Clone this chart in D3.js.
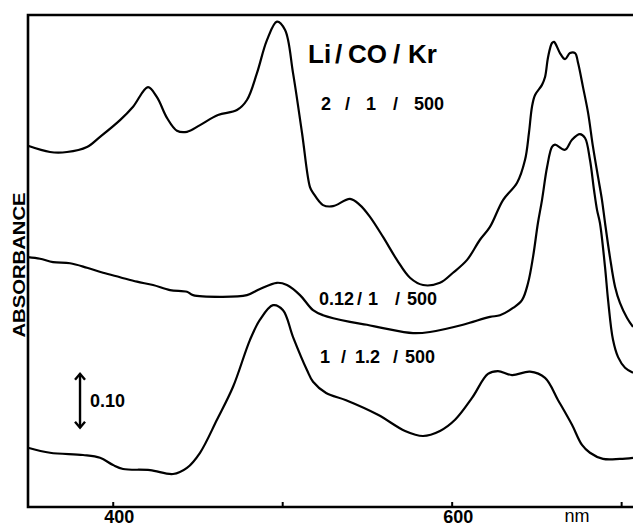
<!DOCTYPE html>
<html>
<head>
<meta charset="utf-8">
<script src="https://cdn.jsdelivr.net/npm/d3@7"></script>
<style>
  html, body { margin: 0; padding: 0; background: #fff; }
  svg { display: block; }
</style>
</head>
<body>
<svg id="chart" width="633" height="528"></svg>
<script>
// Absorption spectra of Li / CO / Kr matrices (wavelength in nm, absorbance)
const wl1 = [350.0, 363.0, 373.0, 384.8, 392.5, 404.3, 412.0, 420.8, 426.1, 432.0, 437.9, 443.8, 451.5, 462.1, 473.3, 479.2, 485.1, 491.0, 496.9, 501.7, 506.4, 511.7, 516.4, 518.2, 524.1, 530.0, 540.0, 545.9, 551.8, 559.5, 567.7, 575.4, 583.1, 593.1, 600.8, 609.1, 616.7, 622.6, 630.3, 638.6, 643.3, 645.6, 647.4, 649.2, 653.3, 655.1, 656.9, 659.2, 660.4, 663.9, 666.9, 669.8, 672.8, 674.6, 677.5, 680.5, 683.4, 686.4, 688.7, 690.5, 693.4, 696.4, 699.3, 703.5, 707.0];
const ab1 = [0.646, 0.635, 0.635, 0.644, 0.662, 0.692, 0.716, 0.751, 0.733, 0.696, 0.673, 0.671, 0.683, 0.701, 0.710, 0.728, 0.776, 0.835, 0.868, 0.853, 0.776, 0.669, 0.572, 0.562, 0.540, 0.538, 0.551, 0.540, 0.519, 0.483, 0.442, 0.410, 0.397, 0.401, 0.419, 0.442, 0.478, 0.501, 0.549, 0.580, 0.621, 0.669, 0.716, 0.737, 0.755, 0.769, 0.805, 0.830, 0.832, 0.812, 0.801, 0.812, 0.812, 0.794, 0.751, 0.705, 0.644, 0.590, 0.549, 0.508, 0.447, 0.394, 0.365, 0.338, 0.322];

const wl2 = [350.0, 357.1, 364.8, 374.8, 384.8, 394.3, 404.3, 414.3, 423.8, 433.8, 443.8, 447.4, 463.3, 479.2, 486.9, 496.9, 502.8, 510.5, 518.2, 524.1, 540.0, 550.0, 559.5, 577.2, 587.2, 606.7, 622.6, 628.5, 636.2, 641.5, 645.1, 648.0, 650.9, 653.3, 656.3, 659.2, 661.0, 666.9, 671.0, 675.7, 678.7, 681.6, 684.0, 685.8, 687.5, 690.5, 692.3, 695.2, 698.2, 702.3, 707.0];
const ab2 = [0.447, 0.444, 0.438, 0.436, 0.428, 0.419, 0.411, 0.403, 0.397, 0.388, 0.385, 0.379, 0.376, 0.379, 0.390, 0.401, 0.397, 0.379, 0.352, 0.343, 0.331, 0.326, 0.320, 0.311, 0.313, 0.326, 0.340, 0.343, 0.356, 0.370, 0.401, 0.447, 0.508, 0.549, 0.608, 0.644, 0.648, 0.639, 0.657, 0.667, 0.660, 0.621, 0.567, 0.531, 0.508, 0.429, 0.370, 0.299, 0.268, 0.249, 0.240];

const wl3 = [350.0, 363.0, 382.5, 392.5, 400.2, 406.1, 422.0, 435.6, 443.8, 451.5, 461.5, 471.0, 481.0, 486.9, 494.6, 500.5, 506.4, 514.6, 518.2, 525.9, 537.7, 556.5, 572.5, 583.1, 593.1, 602.0, 612.0, 621.4, 627.3, 635.6, 646.2, 655.1, 662.8, 671.0, 676.9, 681.6, 689.3, 699.3, 707.0];
const ab3 = [0.106, 0.097, 0.093, 0.088, 0.075, 0.068, 0.066, 0.059, 0.070, 0.097, 0.156, 0.215, 0.299, 0.335, 0.361, 0.352, 0.304, 0.245, 0.224, 0.204, 0.191, 0.165, 0.136, 0.127, 0.136, 0.156, 0.195, 0.238, 0.243, 0.236, 0.242, 0.231, 0.191, 0.147, 0.111, 0.097, 0.086, 0.086, 0.088];

const seriesLabels = ["2 / 1 / 500", "0.12 / 1 / 500", "1 / 1.2 / 500"];
const titleText = "Li / CO / Kr";
const tickValues = [400, 500, 600, 700];
const tickLabels = ["400", "", "600", ""];
const unitText = "nm";
const yTitle = "ABSORBANCE";
const scaleBarValue = 0.10;
const scaleBarLabel = "0.10";

const svg = d3.select("#chart");
const FONT = "'Liberation Sans', Arial, Helvetica, sans-serif";
const frame = { left: 28, right: 633, top: 15, bottom: 507 };

const x = d3.scaleLinear().domain([350, 707]).range([frame.left, frame.right]);
const y = d3.scaleLinear().domain([0, 0.88]).range([frame.bottom, frame.top]);

// frame: left, top and bottom edges (open on the right)
svg.append("path")
  .attr("d", `M${frame.right},${frame.top} L${frame.left},${frame.top} L${frame.left},${frame.bottom} L${frame.right},${frame.bottom}`)
  .attr("fill", "none").attr("stroke", "#000").attr("stroke-width", 2.6);

// wavelength axis: short inward ticks, offset labels
const xAxis = d3.axisBottom(x)
  .tickValues(tickValues)
  .tickFormat((d, i) => tickLabels[i])
  .tickSizeInner(-5).tickSizeOuter(0).tickPadding(3);
const gx = svg.append("g").attr("transform", `translate(0,${frame.bottom})`).call(xAxis);
gx.select(".domain").remove();
gx.selectAll(".tick line").attr("stroke", "#000").attr("stroke-width", 2);
gx.selectAll(".tick text")
  .attr("fill", "#000").attr("dx", 6)
  .style("font-family", FONT).style("font-size", "18px").style("font-weight", "bold");

svg.append("text")
  .attr("x", 577).attr("y", 522).attr("text-anchor", "middle")
  .style("font-family", FONT).style("font-size", "18px")
  .text(unitText);

// y-axis title
svg.append("text")
  .attr("transform", "translate(25,265) rotate(-90)")
  .attr("text-anchor", "middle")
  .attr("textLength", 145).attr("lengthAdjust", "spacingAndGlyphs")
  .style("font-family", FONT).style("font-size", "17px").style("font-weight", "bold")
  .text(yTitle);

// spectra
const line = d3.line()
  .x(d => x(d[0])).y(d => y(d[1]))
  .curve(d3.curveCatmullRom.alpha(0.5));

const spectra = [d3.zip(wl1, ab1), d3.zip(wl2, ab2), d3.zip(wl3, ab3)];
svg.append("g").selectAll("path")
  .data(spectra).join("path")
  .attr("d", line)
  .attr("fill", "none").attr("stroke", "#000")
  .attr("stroke-width", 2.2).attr("stroke-linejoin", "round");

// annotation text, placed piece by piece for the wide spacing around slashes
function spacedLabel(text, xs, baseline, size) {
  const parts = text.split(" ");
  const t = svg.append("text")
    .attr("y", baseline)
    .style("font-family", FONT).style("font-size", size + "px").style("font-weight", "bold");
  parts.forEach((p, i) => t.append("tspan").attr("x", xs[i]).text(p));
}

spacedLabel(titleText, [308, 335, 348, 393, 408], 63, 26);
spacedLabel(seriesLabels[0], [321, 345, 366, 393, 414], 110, 18);
spacedLabel(seriesLabels[1], [319, 357, 368, 395, 407], 305, 18);
spacedLabel(seriesLabels[2], [320, 341, 355, 393, 405], 363, 18);

// 0.10 absorbance scale bar
const barX = x(380.7);
const barBottom = y(0.14), barTop = y(0.14 + scaleBarValue);
const bar = svg.append("g").attr("fill", "none").attr("stroke", "#000").attr("stroke-width", 2.4);
bar.append("line").attr("x1", barX).attr("x2", barX).attr("y1", barTop + 1).attr("y2", barBottom - 1);
bar.append("path").attr("d", `M${barX - 5},${barTop + 7} L${barX},${barTop + 1} L${barX + 5},${barTop + 7}`);
bar.append("path").attr("d", `M${barX - 5},${barBottom - 7} L${barX},${barBottom - 1} L${barX + 5},${barBottom - 7}`);
svg.append("text")
  .attr("x", barX + 10).attr("y", (barTop + barBottom) / 2 + 6)
  .style("font-family", FONT).style("font-size", "18px").style("font-weight", "bold")
  .text(scaleBarLabel);
</script>
</body>
</html>
